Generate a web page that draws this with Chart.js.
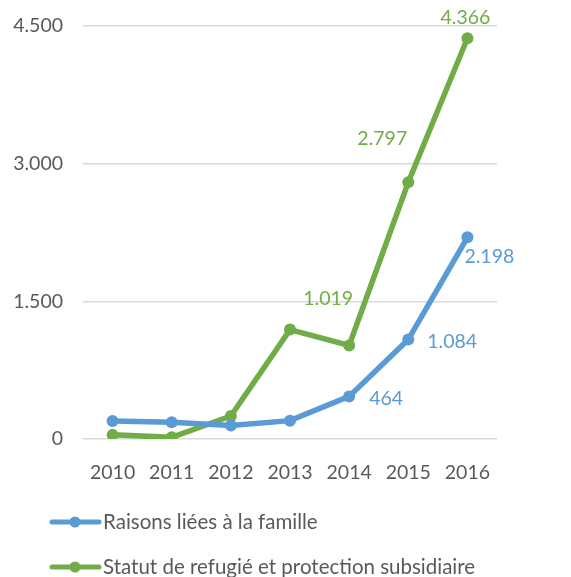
<!DOCTYPE html>
<html lang="fr">
<head>
  <meta charset="UTF-8">
  <title>Raisons liées à la famille / Statut de refugié</title>
  <script src="https://cdn.jsdelivr.net/npm/chart.js@4"></script>
  <style>
    html, body { margin: 0; padding: 0; background: #fff; }
    #wrap { width: 571px; height: 577px; }
  </style>
</head>
<body>
  <div id="wrap"><canvas id="chart" width="571" height="577"></canvas></div>

  <script>
    // data
    const years = ['2010', '2011', '2012', '2013', '2014', '2015', '2016'];
    const famille = [197, 182, 148, 200, 464, 1084, 2198];
    const refugie = [45, 18, 250, 1192, 1019, 2797, 4366];
    const yTicks = [0, 1500, 3000, 4500];
    const seriesNames = ['Raisons liées à la famille', 'Statut de refugié et protection subsidiaire'];
    // which points carry a value label
    const labelledFamille = [4, 5, 6];
    const labelledRefugie = [4, 5, 6];

    const BLUE = '#5b9bd5';
    const GREEN = '#70ad47';
    const TEXT = '#595959';
    const FONT = 'Lato, "Open Sans", sans-serif';

    // 1234 -> "1.234"
    function fmt(v) {
      return String(Math.round(v)).replace(/\B(?=(\d{3})+(?!\d))/g, '.');
    }

    // value labels next to selected points
    const valueLabels = {
      id: 'valueLabels',
      afterDatasetsDraw(chart) {
        const ctx = chart.ctx;
        const offsets = [
          { align: 'left', dx: [20, 19, -3], dy: [2, 2, 19] },
          { align: 'center', dx: [-21, -26, -2], dy: [-47, -44, -21] }
        ];
        const picks = [labelledFamille, labelledRefugie];
        ctx.save();
        ctx.font = '19.5px ' + FONT;
        ctx.textBaseline = 'middle';
        chart.data.datasets.forEach((ds, i) => {
          const meta = chart.getDatasetMeta(i);
          ctx.fillStyle = ds.borderColor;
          ctx.textAlign = offsets[i].align;
          picks[i].forEach((idx, k) => {
            const pt = meta.data[idx];
            ctx.fillText(fmt(ds.data[idx]), pt.x + offsets[i].dx[k], pt.y + offsets[i].dy[k]);
          });
        });
        ctx.restore();
      }
    };

    // stacked legend at the bottom left
    const bottomLegend = {
      id: 'bottomLegend',
      afterDraw(chart) {
        const ctx = chart.ctx;
        const rows = [522, 567];
        ctx.save();
        ctx.font = '20.5px ' + FONT;
        ctx.textBaseline = 'middle';
        ctx.textAlign = 'left';
        chart.data.datasets.forEach((ds, i) => {
          const y = rows[i];
          ctx.strokeStyle = ds.borderColor;
          ctx.lineWidth = 5;
          ctx.lineCap = 'round';
          ctx.beginPath();
          ctx.moveTo(52, y);
          ctx.lineTo(99, y);
          ctx.stroke();
          ctx.fillStyle = ds.borderColor;
          ctx.beginPath();
          ctx.arc(75, y, 5.5, 0, Math.PI * 2);
          ctx.fill();
          ctx.fillStyle = TEXT;
          ctx.fillText(ds.label, 103, y);
        });
        ctx.restore();
      }
    };

    function series(label, data, color) {
      return {
        label: label,
        data: data,
        borderColor: color,
        backgroundColor: color,
        borderWidth: 5.5,
        pointRadius: 6,
        pointHoverRadius: 6,
        pointBackgroundColor: color,
        pointBorderWidth: 0,
        tension: 0
      };
    }

    new Chart(document.getElementById('chart'), {
      type: 'line',
      data: {
        labels: years,
        datasets: [
          series(seriesNames[0], famille, BLUE),
          series(seriesNames[1], refugie, GREEN)
        ]
      },
      options: {
        responsive: false,
        animation: false,
        layout: { padding: { top: 26, right: 74, bottom: 88, left: 0 } },
        plugins: {
          legend: { display: false },
          title: { display: false },
          tooltip: { enabled: false }
        },
        scales: {
          x: {
            offset: true,
            grid: { display: false, drawTicks: false },
            border: { display: false },
            ticks: { color: TEXT, font: { family: FONT, size: 19.5 }, padding: 22, maxRotation: 0 },
            afterFit(scale) { scale.height = 50; }
          },
          y: {
            min: 0,
            max: 4500,
            afterBuildTicks(scale) { scale.ticks = yTicks.map(v => ({ value: v })); },
            grid: { color: '#d9d9d9', lineWidth: 1.5, drawTicks: false },
            border: { display: false },
            ticks: { color: TEXT, font: { family: FONT, size: 19.5 }, padding: 20, callback: v => fmt(v) },
            afterFit(scale) { scale.width = 83; scale.paddingTop = 0; }
          }
        }
      },
      plugins: [valueLabels, bottomLegend]
    });
  </script>
</body>
</html>
